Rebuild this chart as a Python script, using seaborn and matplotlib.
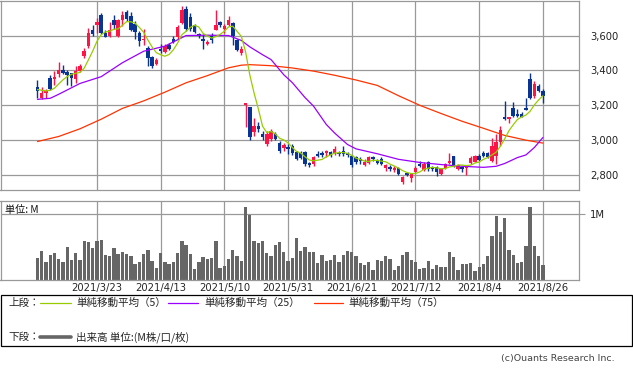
import numpy as np
import pandas as pd
import matplotlib
matplotlib.use("Agg")
import matplotlib.pyplot as plt
import seaborn as sns
from matplotlib.lines import Line2D
from matplotlib.patches import Rectangle

sns.set_theme(style="white")
plt.rcParams['font.family'] = ['DejaVu Sans', 'Noto Sans CJK JP']

# ---------------- data ----------------
tick_labels = ["2021/3/23", "2021/4/13", "2021/5/10", "2021/5/31",
               "2021/6/21", "2021/7/12", "2021/8/4", "2021/8/26"]
tick_days = [14, 29, 44, 59, 74, 89, 104, 119]

opens = [3305, 3240, 3272, 3354, 3348, 3377, 3402, 3390, 3383, 3348,
         3396, 3482, 3539, 3634, 3663, 3720, 3615, 3596, 3691, 3596,
         3687, 3733, 3710, 3668, 3615, 3573, 3530, 3478, 3434, 3520,
         3505, 3545, 3583, 3592, 3672, 3752, 3706, 3663, 3610, 3583,
         3549, 3596, 3630, 3676, 3638, 3663, 3672, 3573, 3497, 3200,
         3190, 3048, 3082, 3034, 2977, 3006, 3034, 2986, 2956, 2958,
         2968, 2933, 2929, 2933, 2867, 2863, 2920, 2929, 2924, 2933,
         2929, 2929, 2939, 2924, 2910, 2901, 2891, 2857, 2869, 2901,
         2882, 2891, 2838, 2844, 2828, 2838, 2758, 2811, 2781, 2819,
         2863, 2830, 2872, 2848, 2844, 2806, 2838, 2869, 2907, 2834,
         2848, 2842, 2867, 2876, 2910, 2929, 2924, 2882, 2910, 2987,
         3130, 3120, 3187, 3148, 3148, 3187, 3349, 3253, 3311, 3282]
highs = [3343, 3307, 3291, 3371, 3396, 3451, 3432, 3402, 3387, 3425,
         3434, 3530, 3644, 3663, 3701, 3730, 3634, 3676, 3720, 3695,
         3739, 3745, 3733, 3682, 3625, 3638, 3539, 3482, 3472, 3549,
         3554, 3558, 3596, 3663, 3771, 3771, 3729, 3668, 3615, 3606,
         3577, 3615, 3745, 3682, 3668, 3714, 3676, 3581, 3539, 3215,
         3190, 3129, 3105, 3053, 3053, 3063, 3047, 2996, 2986, 2977,
         2977, 2939, 2935, 2939, 2876, 2910, 2939, 2939, 2945, 2939,
         2968, 2935, 2968, 2933, 2914, 2910, 2901, 2891, 2910, 2910,
         2891, 2901, 2863, 2857, 2853, 2844, 2796, 2819, 2811, 2853,
         2882, 2876, 2882, 2853, 2853, 2838, 2869, 2929, 2910, 2863,
         2853, 2849, 2907, 2914, 2920, 2939, 2930, 3015, 3034, 3082,
         3225, 3135, 3219, 3177, 3160, 3244, 3383, 3339, 3320, 3292]
lows = [3240, 3234, 3243, 3288, 3314, 3364, 3380, 3314, 3310, 3326,
        3390, 3472, 3530, 3596, 3615, 3606, 3590, 3592, 3638, 3592,
        3653, 3682, 3625, 3581, 3539, 3543, 3428, 3415, 3430, 3501,
        3501, 3516, 3558, 3581, 3668, 3625, 3625, 3615, 3587, 3524,
        3543, 3558, 3630, 3649, 3615, 3657, 3543, 3510, 3491, 3076,
        3002, 3025, 3048, 3002, 2967, 2996, 3000, 2929, 2939, 2920,
        2915, 2888, 2891, 2853, 2844, 2853, 2901, 2905, 2905, 2905,
        2914, 2910, 2910, 2905, 2844, 2863, 2863, 2853, 2863, 2882,
        2863, 2857, 2825, 2825, 2819, 2800, 2749, 2796, 2758, 2815,
        2848, 2825, 2825, 2825, 2796, 2800, 2834, 2863, 2844, 2830,
        2819, 2800, 2863, 2872, 2882, 2901, 2895, 2872, 2863, 2968,
        3116, 3097, 3130, 3135, 3130, 3173, 3238, 3244, 3276, 3215]
closes = [3282, 3268, 3282, 3295, 3363, 3402, 3387, 3375, 3358, 3396,
          3425, 3510, 3615, 3606, 3676, 3615, 3592, 3634, 3663, 3687,
          3720, 3695, 3630, 3619, 3568, 3583, 3472, 3428, 3457, 3510,
          3539, 3524, 3562, 3650, 3748, 3638, 3638, 3619, 3600, 3568,
          3562, 3577, 3663, 3663, 3657, 3687, 3596, 3516, 3520, 3215,
          3019, 3082, 3063, 3019, 3034, 3053, 3009, 2939, 2971, 2948,
          2925, 2891, 2895, 2863, 2857, 2901, 2910, 2914, 2939, 2914,
          2952, 2920, 2920, 2914, 2857, 2872, 2882, 2876, 2901, 2891,
          2867, 2863, 2857, 2834, 2838, 2806, 2790, 2802, 2806, 2838,
          2853, 2863, 2834, 2834, 2819, 2834, 2863, 2882, 2849, 2857,
          2834, 2849, 2895, 2907, 2888, 2910, 2901, 2968, 2987, 3060,
          3120, 3133, 3139, 3139, 3135, 3173, 3244, 3320, 3282, 3253]
pre_closes = [3290, 3300, 3280, 3300]   # closes before the first visible day (for MA5)

volumes = [0.34, 0.44, 0.28, 0.38, 0.41, 0.32, 0.28, 0.50, 0.30, 0.41,
           0.30, 0.59, 0.57, 0.49, 0.59, 0.61, 0.38, 0.36, 0.49, 0.39,
           0.42, 0.39, 0.36, 0.24, 0.27, 0.39, 0.45, 0.29, 0.18, 0.41,
           0.27, 0.24, 0.27, 0.41, 0.59, 0.53, 0.39, 0.17, 0.27, 0.35,
           0.32, 0.33, 0.59, 0.18, 0.21, 0.32, 0.45, 0.36, 0.29, 1.11,
           0.98, 0.59, 0.56, 0.59, 0.41, 0.36, 0.53, 0.58, 0.42, 0.29,
           0.33, 0.64, 0.44, 0.50, 0.42, 0.42, 0.26, 0.38, 0.29, 0.30,
           0.38, 0.27, 0.38, 0.44, 0.42, 0.36, 0.26, 0.23, 0.27, 0.15,
           0.30, 0.29, 0.36, 0.32, 0.15, 0.21, 0.38, 0.42, 0.30, 0.27,
           0.17, 0.18, 0.29, 0.17, 0.23, 0.20, 0.20, 0.42, 0.35, 0.15,
           0.24, 0.24, 0.26, 0.14, 0.20, 0.24, 0.36, 0.67, 0.97, 0.73,
           0.94, 0.45, 0.38, 0.26, 0.27, 0.52, 1.11, 0.52, 0.36, 0.23]

ma25_days = [0, 3, 5, 10, 15, 20, 25, 30, 35, 40, 45, 48, 50, 53, 55, 58,
             60, 63, 65, 68, 70, 73, 75, 80, 85, 90, 95, 100, 105, 108,
             110, 113, 115, 117, 119]
ma25_vals = [3234, 3240, 3263, 3325, 3364, 3444, 3510, 3539, 3600, 3602,
             3600, 3572, 3535, 3490, 3462, 3375, 3330, 3244, 3195, 3090,
             3040, 2975, 2950, 2922, 2890, 2872, 2860, 2850, 2844, 2850,
             2866, 2900, 2915, 2958, 3015]
ma75_days = [0, 5, 10, 15, 20, 25, 30, 35, 40, 45, 48, 50, 55, 60, 65, 70,
             75, 80, 85, 90, 95, 100, 105, 110, 115, 119]
ma75_vals = [2992, 3021, 3065, 3120, 3182, 3225, 3275, 3329, 3370, 3415,
             3430, 3433, 3427, 3414, 3396, 3372, 3345, 3314, 3255, 3200,
             3153, 3108, 3068, 3027, 3000, 2983]

# ---------------- styling ----------------
RED = "#ff1446"
BLUE = "#0a3494"
C_MA5 = "#99cc00"
C_MA25 = "#9900ff"
C_MA75 = "#ff3300"
C_VOL = "#666666"
GRID = "#999999"

n = len(closes)
df = pd.DataFrame({"day": np.arange(n), "open": opens, "high": highs,
                   "low": lows, "close": closes, "volume": volumes})
allc = pd.Series(pre_closes + closes, dtype=float)
df["ma5"] = allc.rolling(5).mean().iloc[len(pre_closes):].to_numpy()
ma25 = pd.DataFrame({"day": ma25_days, "v": ma25_vals})
ma75 = pd.DataFrame({"day": ma75_days, "v": ma75_vals})

W, H = 633, 371
fig = plt.figure(figsize=(W / 100, H / 100), dpi=100)


def rect(l, t, r, b):
    return [l / W, 1 - b / H, (r - l) / W, (b - t) / H]


ax = fig.add_axes(rect(0.5, 0.5, 579, 190))
axv = fig.add_axes(rect(0.5, 201, 579, 280))

XLIM = (-8.7, 127.5)

# ---- price panel ----
up = df["close"] >= df["open"]
cols = np.where(up, RED, BLUE)
ax.vlines(df["day"], df["low"], df["high"], colors=cols, lw=1.0, zorder=2)
bottom = np.minimum(df["open"], df["close"])
height = np.maximum((df["close"] - df["open"]).abs(), 5)
ax.bar(df["day"], height, bottom=bottom, width=0.8, color=cols,
       linewidth=0, zorder=2)

sns.lineplot(data=ma75, x="day", y="v", ax=ax, color=C_MA75, lw=0.9, zorder=3)
sns.lineplot(data=ma25, x="day", y="v", ax=ax, color=C_MA25, lw=0.9, zorder=3)
sns.lineplot(data=df, x="day", y="ma5", ax=ax, color=C_MA5, lw=0.9, zorder=3)

ax.set_xlim(*XLIM)
ax.set_ylim(2714, 3801)
ax.set_xticks(tick_days)
ax.set_xticklabels([])
yt = [2800, 3000, 3200, 3400, 3600]
ax.set_yticks(yt)
ax.set_yticklabels([f"{v:,}" for v in yt])
ax.yaxis.tick_right()
ax.tick_params(axis="y", length=0, pad=8, labelsize=7.2, colors="#222222")
ax.tick_params(axis="x", length=0)
ax.grid(True, color=GRID, lw=0.9)
ax.set_axisbelow(True)
ax.set_xlabel("")
ax.set_ylabel("")

# ---- volume panel ----
sns.barplot(data=df, x="day", y="volume", ax=axv, native_scale=True,
            color=C_VOL, saturation=1, width=0.78, errorbar=None,
            linewidth=0, edgecolor=C_VOL, zorder=2)
axv.set_xlim(*XLIM)
axv.set_ylim(0, 1.197)
axv.set_xticks(tick_days)
axv.set_xticklabels(tick_labels)
axv.set_yticks([1.0])
axv.set_yticklabels(["1M"])
axv.yaxis.tick_right()
axv.tick_params(axis="y", length=4, width=0.8, pad=3.5,
                labelsize=7.2, labelcolor="#222222", color=GRID)
axv.tick_params(axis="x", length=0, pad=2.5, labelsize=7.2)
axv.grid(True, color=GRID, lw=0.9)
axv.set_axisbelow(True)
axv.set_xlabel("")
axv.set_ylabel("")

for a in (ax, axv):
    for s in a.spines.values():
        s.set_color(GRID)
        s.set_linewidth(0.9)
        s.set_visible(True)

fig.text(5 / W, 1 - 209.5 / H, "単位: M", fontsize=7.3, va="center",
         ha="left", family=["Noto Sans CJK JP", "DejaVu Sans"], color="#111111")

# ---- legend box ----
fig.add_artist(Rectangle((0.5 / W, 1 - 346 / H), 631.5 / W, 51 / H,
                         transform=fig.transFigure, fill=False,
                         ec="black", lw=0.9))
jp = ["Noto Sans CJK JP", "DejaVu Sans"]
y1 = 1 - 303 / H
y2 = 1 - 337 / H
fs = 7.6
fig.text(8 / W, y1, "上段：", fontsize=fs, va="center", family=jp)
for (x0, x1, xt, c, lab) in [(40, 71, 76, C_MA5, "単純移動平均（5）"),
                             (168, 198, 204, C_MA25, "単純移動平均（25）"),
                             (314, 343, 348, C_MA75, "単純移動平均（75）")]:
    fig.add_artist(Line2D([x0 / W, x1 / W], [y1, y1], color=c, lw=0.9,
                          transform=fig.transFigure))
    fig.text(xt / W, y1, lab, fontsize=fs, va="center", family=jp)
fig.text(8 / W, y2, "下段：", fontsize=fs, va="center", family=jp)
fig.add_artist(Line2D([40 / W, 71 / W], [y2, y2], color=C_VOL, lw=2.6,
                      transform=fig.transFigure))
fig.text(76 / W, y2, "出来高 単位:(M株/口/枚)", fontsize=fs, va="center",
         family=jp)

fig.text(615 / W, 1 - 358 / H, "(c)Ouants Research Inc.", fontsize=6.8,
         ha="right", va="center", color="#444444")

fig.savefig("out.png", dpi=100)
